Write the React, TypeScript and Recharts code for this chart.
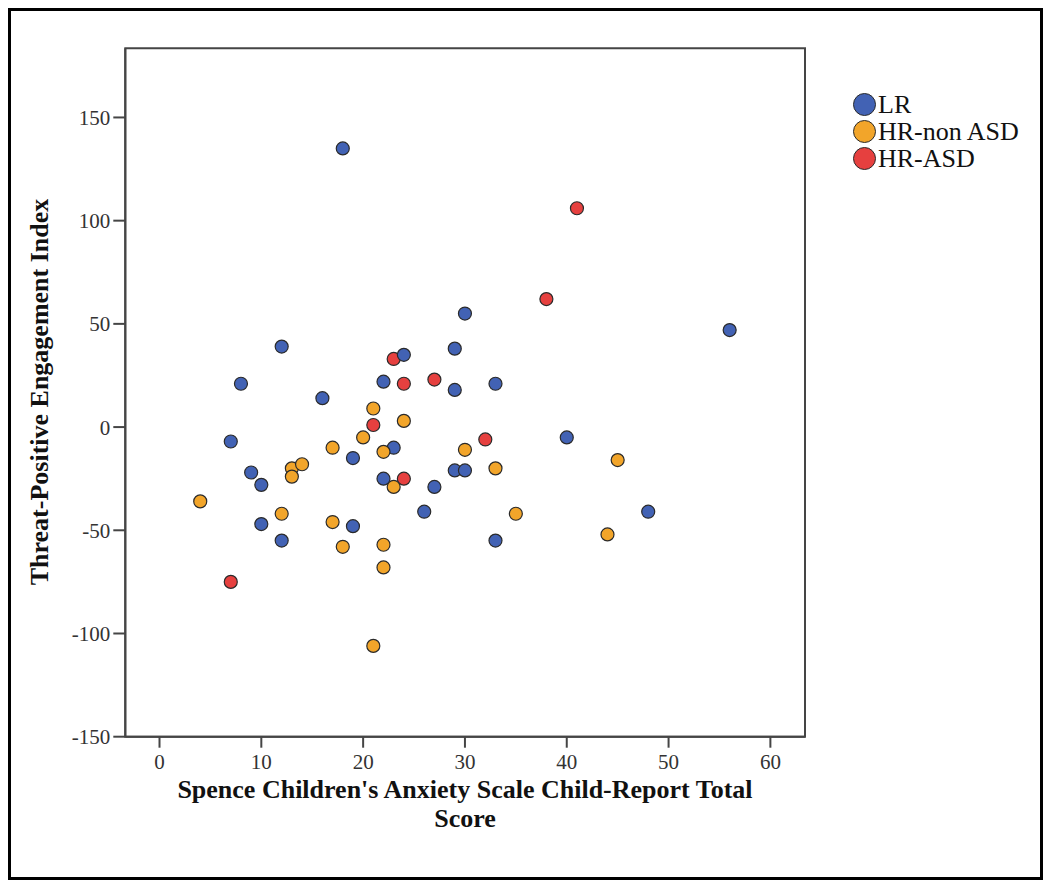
import React from 'react';
import { ScatterChart, Scatter, XAxis, YAxis, ReferenceArea } from 'recharts';

// Spence score (x) vs threat-positive engagement index (y), by group
const lrPoints = [
  { x: 7, y: -7 }, { x: 8, y: 21 }, { x: 9, y: -22 }, { x: 10, y: -28 }, { x: 10, y: -47 },
  { x: 12, y: 39 }, { x: 12, y: -55 }, { x: 16, y: 14 }, { x: 18, y: 135 }, { x: 19, y: -15 },
  { x: 19, y: -48 }, { x: 22, y: 22 }, { x: 22, y: -25 }, { x: 23, y: -10 }, { x: 24, y: 35 },
  { x: 26, y: -41 }, { x: 27, y: -29 }, { x: 29, y: 38 }, { x: 29, y: 18 }, { x: 29, y: -21 },
  { x: 30, y: 55 }, { x: 30, y: -21 }, { x: 33, y: 21 }, { x: 33, y: -55 }, { x: 40, y: -5 },
  { x: 48, y: -41 }, { x: 56, y: 47 },
];

const hrNonAsdPoints = [
  { x: 4, y: -36 }, { x: 12, y: -42 }, { x: 13, y: -20 }, { x: 13, y: -24 }, { x: 14, y: -18 },
  { x: 17, y: -10 }, { x: 17, y: -46 }, { x: 18, y: -58 }, { x: 20, y: -5 }, { x: 21, y: 9 },
  { x: 21, y: -106 }, { x: 22, y: -12 }, { x: 22, y: -57 }, { x: 22, y: -68 }, { x: 23, y: -29 },
  { x: 24, y: 3 }, { x: 30, y: -11 }, { x: 33, y: -20 }, { x: 35, y: -42 }, { x: 44, y: -52 },
  { x: 45, y: -16 },
];

const hrAsdPoints = [
  { x: 7, y: -75 }, { x: 21, y: 1 }, { x: 23, y: 33 }, { x: 24, y: 21 }, { x: 24, y: -25 },
  { x: 27, y: 23 }, { x: 32, y: -6 }, { x: 38, y: 62 }, { x: 41, y: 106 },
];

const xTicks = [0, 10, 20, 30, 40, 50, 60];
const yTicks = [-150, -100, -50, 0, 50, 100, 150];
const xDomain = [-3.36, 63.4];
const yDomain = [-150, 183.5];

const groups = [
  { name: 'LR', color: '#4262b4' },
  { name: 'HR-non ASD', color: '#f2a52a' },
  { name: 'HR-ASD', color: '#e6403f' },
];

const serif = '"Liberation Serif", "Times New Roman", serif';
const frame = '#454545';

const dot = (color: string) => (props: any) => (
  <circle cx={props.cx} cy={props.cy} r={6.5} fill={color} stroke="#2a2a2a" strokeWidth={1.2} />
);

export default function App() {
  return (
    <div
      style={{
        position: 'relative',
        width: 1035,
        height: 872,
        boxSizing: 'border-box',
        border: '3px solid #000',
        background: '#fff',
        fontFamily: serif,
      }}
    >
      <ScatterChart
        width={1029}
        height={866}
        margin={{ top: 37.3, right: 235, bottom: 100.3, left: 54.3 }}
        style={{ position: 'absolute', left: 0, top: 0 }}
      >
        <XAxis
          type="number"
          dataKey="x"
          domain={xDomain}
          ticks={xTicks}
          allowDataOverflow
          height={40}
          tickSize={11}
          tickMargin={6}
          axisLine={{ stroke: frame, strokeWidth: 2 }}
          tickLine={{ stroke: frame, strokeWidth: 2 }}
          tick={{ fill: '#333', fontSize: 21, fontFamily: serif }}
        />
        <YAxis
          type="number"
          dataKey="y"
          domain={yDomain}
          ticks={yTicks}
          allowDataOverflow
          width={60}
          tickSize={12}
          tickMargin={3}
          axisLine={{ stroke: frame, strokeWidth: 2 }}
          tickLine={{ stroke: frame, strokeWidth: 2 }}
          tick={{ fill: '#333', fontSize: 21, fontFamily: serif }}
        />
        <ReferenceArea
          x1={xDomain[0]}
          x2={xDomain[1]}
          y1={yDomain[0]}
          y2={yDomain[1]}
          fill="none"
          stroke={frame}
          strokeWidth={2}
        />
        <Scatter name="HR-ASD" data={hrAsdPoints} shape={dot(groups[2].color)} isAnimationActive={false} />
        <Scatter name="LR" data={lrPoints} shape={dot(groups[0].color)} isAnimationActive={false} />
        <Scatter name="HR-non ASD" data={hrNonAsdPoints} shape={dot(groups[1].color)} isAnimationActive={false} />
      </ScatterChart>

      {/* y axis title */}
      <div
        style={{
          position: 'absolute',
          left: 29 - 250,
          top: 381 - 15,
          width: 500,
          height: 30,
          lineHeight: '30px',
          textAlign: 'center',
          transform: 'rotate(-90deg)',
          fontWeight: 'bold',
          fontSize: 26,
          color: '#111',
        }}
      >
        Threat-Positive Engagement Index
      </div>

      {/* x axis title */}
      <div
        style={{
          position: 'absolute',
          left: 0,
          top: 764,
          width: 908,
          textAlign: 'center',
          fontWeight: 'bold',
          fontSize: 26,
          lineHeight: '29px',
          color: '#111',
        }}
      >
        <div>Spence Children's Anxiety Scale Child-Report Total</div>
        <div>Score</div>
      </div>

      {/* legend */}
      <div style={{ position: 'absolute', left: 842, top: 80 }}>
        {groups.map((g) => (
          <div key={g.name} style={{ display: 'flex', alignItems: 'center', height: 27 }}>
            <span
              style={{
                display: 'inline-block',
                width: 21,
                height: 21,
                borderRadius: '50%',
                background: g.color,
                border: '1.5px solid #2a2a2a',
                marginRight: 2,
              }}
            />
            <span style={{ fontSize: 26, lineHeight: '27px', color: '#111' }}>{g.name}</span>
          </div>
        ))}
      </div>
    </div>
  );
}
